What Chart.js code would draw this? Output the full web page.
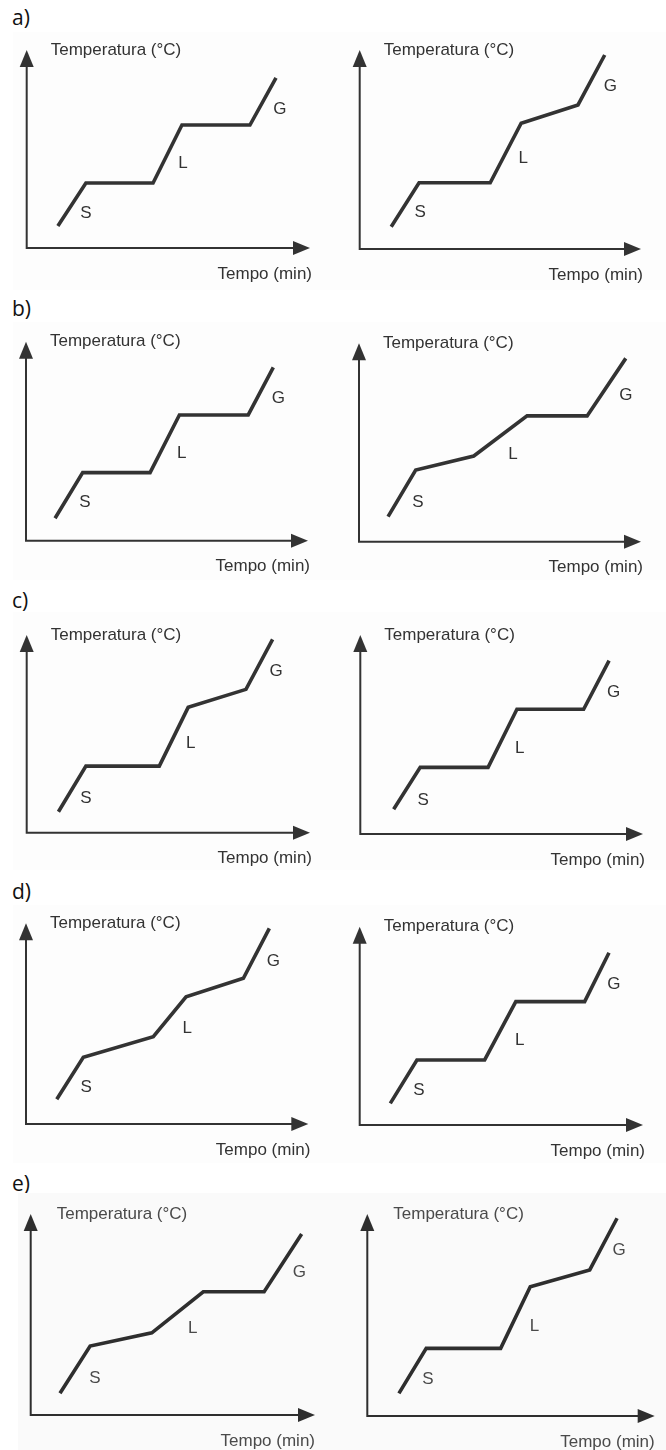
<!DOCTYPE html>
<html>
<head>
<meta charset="utf-8">
<script src="https://cdn.jsdelivr.net/npm/chart.js@4.4.1/dist/chart.umd.min.js"></script>
<style>
html,body{margin:0;padding:0;background:#fff;}
body{width:666px;height:1450px;position:relative;overflow:hidden;}
.lab{position:absolute;left:12px;font-family:"Open Sans","Noto Sans",sans-serif;font-size:21px;color:#111;line-height:1;}
.box{position:absolute;}
.box canvas{display:block;}
</style>
</head>
<body>
<div class="lab" style="top:7px">a)</div>
<div class="lab" style="top:298px">b)</div>
<div class="lab" style="top:590px">c)</div>
<div class="lab" style="top:881px">d)</div>
<div class="lab" style="top:1173px">e)</div>
<script>
// ---- data (time %, temperature % of each axis) ----
const fases = ['S', 'L', 'G'];
const tituloY = 'Temperatura (°C)';
const tituloX = 'Tempo (min)';

const tempoA1 = [11.0, 20.9, 44.6, 54.8, 78.8, 88.0];
const tempA1  = [11.1, 32.8, 32.8, 62.1, 62.1, 85.9];
const rotXA1  = [20.9, 55.2, 89.4];
const rotYA1  = [17.7, 42.9, 70.2];

const tempoA2 = [11.2, 21.1, 46.4, 57.4, 77.6, 87.1];
const tempA2  = [11.2, 33.3, 33.3, 63.2, 72.4, 97.5];
const rotXA2  = [21.5, 58.1, 89.1];
const rotYA2  = [18.2, 45.6, 81.9];

const tempoB1 = [10.3, 20.1, 44.0, 54.4, 78.8, 87.7];
const tempB1  = [11.3, 34.2, 34.2, 63.2, 63.2, 87.1];
const rotXB1  = [20.9, 55.2, 89.5];
const rotYB1  = [19.1, 43.9, 71.6];

const tempoB2 = [10.3, 20.1, 40.7, 59.6, 80.9, 94.6];
const tempB2  = [12.6, 36.1, 43.2, 63.4, 63.4, 92.4];
const rotXB2  = [20.9, 54.6, 94.6];
const rotYB2  = [19.7, 44.2, 73.9];

const tempoC1 = [11.2, 20.9, 46.8, 57.0, 77.4, 86.8];
const tempC1  = [10.6, 33.7, 33.7, 63.4, 72.5, 97.8];
const rotXC1  = [20.9, 57.9, 88.0];
const rotYC1  = [17.4, 45.2, 81.4];

const tempoC2 = [11.8, 21.2, 45.2, 55.4, 79.0, 88.0];
const tempC2  = [12.4, 33.5, 33.5, 62.7, 62.7, 87.1];
const rotXC2  = [22.2, 56.4, 89.6];
const rotYC2  = [17.1, 43.1, 71.0];

const tempoD1 = [10.9, 20.3, 45.1, 56.7, 77.0, 86.2];
const tempD1  = [12.3, 33.2, 43.5, 63.4, 72.6, 97.5];
const rotXD1  = [21.3, 57.1, 87.6];
const rotYD1  = [18.3, 47.7, 80.9];

const tempoD2 = [10.8, 20.2, 44.1, 55.1, 79.4, 88.0];
const tempD2  = [10.9, 32.8, 32.8, 62.2, 62.2, 86.9];
const rotXD2  = [20.9, 56.5, 89.7];
const rotYD2  = [17.3, 42.9, 71.1];

const tempoE1 = [10.3, 20.9, 42.6, 60.7, 82.1, 95.3];
const tempE1  = [10.8, 34.3, 40.9, 61.3, 61.3, 90.0];
const rotXE1  = [22.6, 57.0, 94.5];
const rotYE1  = [18.3, 43.1, 70.8];

const tempoE2 = [11.0, 20.5, 46.4, 56.7, 77.4, 86.9];
const tempE2  = [11.2, 33.5, 33.5, 64.0, 72.3, 97.9];
const rotXE2  = [21.1, 58.2, 87.6];
const rotYE2  = [18.2, 44.2, 82.2];

// ---- layout (page pixels): box, and axis origin / arrow tips ----
const paineis = [
  {t: tempoA1, y: tempA1, rx: rotXA1, ry: rotYA1, box: [13, 32, 333, 290],  ax: [26.7, 310, 248, 50], e: false},
  {t: tempoA2, y: tempA2, rx: rotXA2, ry: rotYA2, box: [333, 32, 666, 290], ax: [359.7, 641, 249, 50], e: false},
  {t: tempoB1, y: tempB1, rx: rotXB1, ry: rotYB1, box: [13, 322, 333, 580], ax: [26, 308, 540.7, 341.7], e: false},
  {t: tempoB2, y: tempB2, rx: rotXB2, ry: rotYB2, box: [333, 322, 666, 580], ax: [359, 641, 541.7, 343.3], e: false},
  {t: tempoC1, y: tempC1, rx: rotXC1, ry: rotYC1, box: [13, 612, 333, 870], ax: [26.7, 310, 832.7, 635], e: false},
  {t: tempoC2, y: tempC2, rx: rotXC2, ry: rotYC2, box: [333, 612, 666, 870], ax: [360.3, 643, 834, 635], e: false},
  {t: tempoD1, y: tempD1, rx: rotXD1, ry: rotYD1, box: [13, 905, 333, 1163], ax: [26, 308.3, 1124, 923.3], e: false},
  {t: tempoD2, y: tempD2, rx: rotXD2, ry: rotYD2, box: [333, 905, 666, 1163], ax: [359.7, 643, 1125, 926.7], e: false},
  {t: tempoE1, y: tempE1, rx: rotXE1, ry: rotYE1, box: [18, 1193, 333, 1450], ax: [30.7, 315, 1415, 1214], e: true},
  {t: tempoE2, y: tempE2, rx: rotXE2, ry: rotYE2, box: [333, 1193, 666, 1450], ax: [367.3, 654.7, 1416, 1214], e: true}
];

const eixosPlugin = {
  id: 'eixos',
  beforeDraw(chart, args, o) {
    const ctx = chart.ctx;
    const {left, right, top, bottom} = chart.chartArea;
    ctx.save();
    ctx.fillStyle = o.bg;
    ctx.fillRect(0, 0, chart.width, chart.height);
    ctx.strokeStyle = o.color;
    ctx.fillStyle = o.color;
    ctx.lineWidth = 2;
    ctx.beginPath();
    ctx.moveTo(left, bottom); ctx.lineTo(right - 12, bottom);
    ctx.moveTo(left, bottom + 1); ctx.lineTo(left, top + 12);
    ctx.stroke();
    ctx.beginPath();
    ctx.moveTo(left, top); ctx.lineTo(left - 7, top + 17); ctx.lineTo(left + 7, top + 17); ctx.closePath();
    ctx.fill();
    ctx.beginPath();
    ctx.moveTo(right, bottom); ctx.lineTo(right - 17, bottom - 7); ctx.lineTo(right - 17, bottom + 7); ctx.closePath();
    ctx.fill();
    ctx.fillStyle = o.text;
    ctx.font = '17px "Liberation Sans", Arial, sans-serif';
    ctx.textBaseline = 'middle';
    ctx.textAlign = 'left';
    ctx.fillText(tituloY, left + o.dy, top);
    ctx.textAlign = 'right';
    ctx.fillText(tituloX, right + o.dx, bottom + 26);
    ctx.restore();
  },
  afterDatasetsDraw(chart, args, o) {
    const ctx = chart.ctx;
    const xs = chart.scales.x, ys = chart.scales.y;
    ctx.save();
    ctx.fillStyle = o.text;
    ctx.font = '17px "Liberation Sans", Arial, sans-serif';
    ctx.textAlign = 'center';
    ctx.textBaseline = 'middle';
    o.rx.forEach((v, i) => {
      ctx.fillText(fases[i], xs.getPixelForValue(v), ys.getPixelForValue(o.ry[i]));
    });
    ctx.restore();
  }
};

paineis.forEach(p => {
  const [bl, bt, br, bb] = p.box;
  const [x0, x1, y0, y1] = p.ax;
  const w = br - bl, h = bb - bt;
  const div = document.createElement('div');
  div.className = 'box';
  div.style.left = bl + 'px';
  div.style.top = bt + 'px';
  div.style.width = w + 'px';
  div.style.height = h + 'px';
  const cv = document.createElement('canvas');
  cv.width = w; cv.height = h;
  cv.style.width = w + 'px'; cv.style.height = h + 'px';
  div.appendChild(cv);
  document.body.appendChild(div);
  const cor = p.e ? '#2e2e2e' : '#333333';
  new Chart(cv, {
    type: 'line',
    data: {
      datasets: [{
        data: p.t.map((v, i) => ({x: v, y: p.y[i]})),
        borderColor: cor,
        borderWidth: 3.6,
        pointRadius: 0,
        tension: 0,
        clip: false,
        borderJoinStyle: 'miter',
        borderCapStyle: 'butt',
        fill: false
      }]
    },
    options: {
      responsive: false,
      animation: false,
      events: [],
      layout: {padding: {left: x0 - bl, right: br - x1, top: y1 - bt, bottom: bb - y0}},
      scales: {
        x: {type: 'linear', min: 0, max: 100, display: false},
        y: {type: 'linear', min: 0, max: 100, display: false}
      },
      plugins: {
        legend: {display: false},
        tooltip: {enabled: false},
        eixos: {
          bg: p.e ? '#fafafa' : '#fdfdfd',
          color: cor,
          text: p.e ? '#4a4a4a' : '#333333',
          dy: p.e ? 26 : 24,
          dx: p.e ? 0 : 2,
          rx: p.rx, ry: p.ry
        }
      }
    },
    plugins: [eixosPlugin]
  });
});
</script>
</body>
</html>
